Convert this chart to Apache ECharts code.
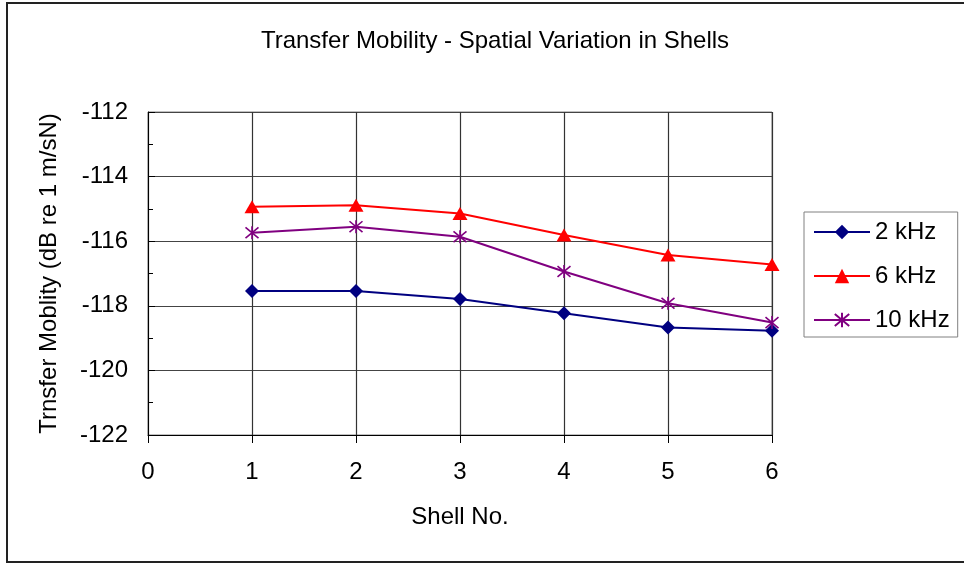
<!DOCTYPE html>
<html>
<head>
<meta charset="utf-8">
<title>Transfer Mobility - Spatial Variation in Shells</title>
<script src="https://cdn.jsdelivr.net/npm/echarts@6/dist/echarts.min.js"></script>
<style>
  html, body { margin: 0; padding: 0; background: #fff; }
  #chart { width: 964px; height: 564px; }
</style>
</head>
<body>
<div id="chart"></div>
<script>
// 数据
const shells = [1, 2, 3, 4, 5, 6];
const khz2 = [-117.54, -117.54, -117.79, -118.23, -118.67, -118.77];
const khz6 = [-114.93, -114.89, -115.14, -115.81, -116.43, -116.72];
const khz10 = [-115.74, -115.55, -115.86, -116.94, -117.92, -118.52];
const yTicks = [-122, -120, -118, -116, -114, -112];
const xTicks = [0, 1, 2, 3, 4, 5, 6];

const font = 'Liberation Sans, Arial, sans-serif';
const asterisk = 'path://M0,0L10,10M10,0L0,10M5,-1L5,11';

function pairs(values) {
  return shells.map((s, i) => [s, values[i]]);
}

const chart = echarts.init(document.getElementById('chart'));
const option = {
  backgroundColor: '#fff',
  animation: false,
  textStyle: { fontFamily: font, color: '#000' },
  graphic: [{
    type: 'rect',
    shape: { x: 7, y: 3, width: 1000, height: 559 },
    style: { fill: 'none', stroke: '#222', lineWidth: 2 },
    silent: true
  }],
  title: {
    text: 'Transfer Mobility - Spatial Variation in Shells',
    left: 490,
    textAlign: 'center',
    top: 24,
    textStyle: { fontFamily: font, fontSize: 24, fontWeight: 'normal', color: '#000' }
  },
  legend: {
    orient: 'vertical',
    left: 804,
    top: 212,
    padding: [8, 8, 5, 9],
    itemGap: 20,
    itemWidth: 56,
    itemHeight: 18,
    borderColor: '#808080',
    borderWidth: 1,
    textStyle: { fontFamily: font, fontSize: 24, lineHeight: 24, color: '#000' },
    data: ['2 kHz', '6 kHz', '10 kHz']
  },
  grid: {
    left: 148,
    right: 192,
    top: 112,
    bottom: 129,
    show: true,
    borderColor: '#808080',
    borderWidth: 1
  },
  xAxis: {
    type: 'value',
    min: xTicks[0],
    max: xTicks[xTicks.length - 1],
    interval: 1,
    name: 'Shell No.',
    nameLocation: 'middle',
    nameGap: 70,
    nameTextStyle: { fontFamily: font, fontSize: 24, color: '#000' },
    axisLine: { lineStyle: { color: '#000', width: 1 } },
    axisTick: { show: true, inside: false, length: 8, lineStyle: { color: '#000' } },
    axisLabel: { margin: 25, fontFamily: font, fontSize: 24, color: '#000' },
    splitLine: { show: true, lineStyle: { color: '#333', width: 1.2 } }
  },
  yAxis: {
    type: 'value',
    min: yTicks[0],
    max: yTicks[yTicks.length - 1],
    interval: 2,
    name: 'Trnsfer Moblity (dB re 1 m/sN)',
    nameLocation: 'middle',
    nameGap: 87,
    nameTextStyle: { fontFamily: font, fontSize: 24, color: '#000' },
    axisLine: { show: true, lineStyle: { color: '#000', width: 1 } },
    axisTick: { show: true, inside: true, length: 7, lineStyle: { color: '#000' } },
    minorTick: { show: true, splitNumber: 2, length: 5, lineStyle: { color: '#000' } },
    axisLabel: { margin: 20, fontFamily: font, fontSize: 24, color: '#000' },
    splitLine: { show: true, lineStyle: { color: '#444', width: 1.2 } }
  },
  series: [
    {
      name: '2 kHz',
      type: 'line',
      data: pairs(khz2),
      symbol: 'diamond',
      symbolSize: 14,
      lineStyle: { color: '#000080', width: 2 },
      itemStyle: { color: '#000080' }
    },
    {
      name: '6 kHz',
      type: 'line',
      data: pairs(khz6),
      symbol: 'triangle',
      symbolSize: [15, 13],
      lineStyle: { color: '#ff0000', width: 2 },
      itemStyle: { color: '#ff0000' }
    },
    {
      name: '10 kHz',
      type: 'line',
      data: pairs(khz10),
      symbol: asterisk,
      symbolSize: 13,
      lineStyle: { color: '#800080', width: 2 },
      itemStyle: { color: '#800080', borderColor: '#800080', borderWidth: 1.6 }
    }
  ]
};
chart.setOption(option);
</script>
</body>
</html>
